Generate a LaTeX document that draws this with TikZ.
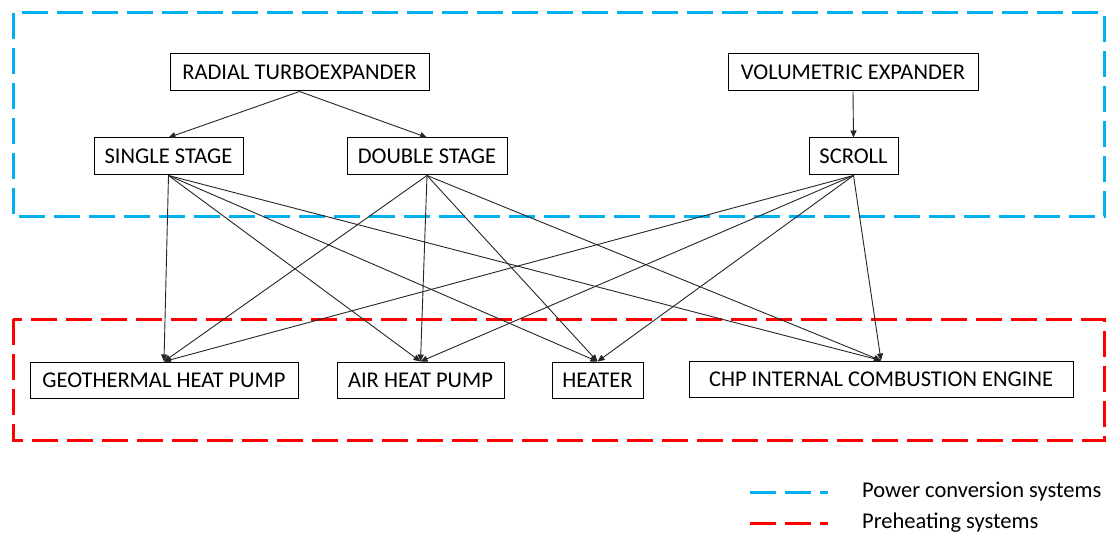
\documentclass[tikz,border=0pt]{standalone}
\usepackage{fontspec}
\setmainfont{Carlito}
\usetikzlibrary{arrows.meta}
\definecolor{grpblue}{HTML}{00B0F0}
\definecolor{grpred}{HTML}{FF0000}
\begin{document}
\begin{tikzpicture}[x=1pt,y=-1pt,
  box/.style={draw=black,line width=1pt,minimum height=37pt,inner sep=0pt,font=\fontsize{22.5}{27}\selectfont},
  link/.style={draw=black!85,line width=0.9pt,-{Triangle[length=7pt,width=6pt]}},
  grpline/.style={line width=3pt,dash pattern=on 26pt off 9pt},
  legtext/.style={anchor=west,inner sep=0pt,font=\fontsize{22.5}{27}\selectfont}]
\fill[white] (0,0) rectangle (1108,537);
\useasboundingbox (0,0) rectangle (1108,537);

% group frames
\draw[grpline,draw=grpblue] (13,13) rectangle (1104,217);
\draw[grpline,draw=grpred] (13,319) rectangle (1104,440);

% nodes
\node[box,minimum width=259pt] (rad) at (299.5,72.5) {RADIAL TURBOEXPANDER};
\node[box,minimum width=250pt] (vol) at (853,72.5) {VOLUMETRIC EXPANDER};
\node[box,minimum width=149pt] (single) at (168.5,156.5) {SINGLE STAGE};
\node[box,minimum width=160pt] (double) at (427,156.5) {DOUBLE STAGE};
\node[box,minimum width=89pt] (scroll) at (853.5,156.5) {SCROLL};
\node[box,minimum width=268pt,minimum height=36pt] (geo) at (164,380) {GEOTHERMAL HEAT PUMP};
\node[box,minimum width=167pt,minimum height=36pt] (air) at (420.5,380) {AIR HEAT PUMP};
\node[box,minimum width=91pt,minimum height=36pt] (heater) at (597.5,380) {HEATER};
\node[box,minimum width=384pt,minimum height=36pt] (chp) at (881,379) {CHP INTERNAL COMBUSTION ENGINE};

% connectors
\draw[link] (rad.south) -- (single.north);
\draw[link] (rad.south) -- (double.north);
\draw[link] (vol.south) -- (scroll.north);
\foreach \s in {single,double,scroll}{
  \foreach \t in {geo,air,heater,chp}{
    \draw[link] (\s.south) -- (\t.north);
  }
}

% legend
\coordinate (lb1) at (750,492);
\coordinate (lb2) at (828,492);
\coordinate (lr1) at (750,523);
\coordinate (lr2) at (828,523);
\draw[grpline,draw=grpblue] (lb1) -- (lb2);
\draw[grpline,draw=grpred] (lr1) -- (lr2);
\node[legtext] (legb) at (862,492) {Power conversion systems};
\node[legtext] (legr) at (862,523) {Preheating systems};
\end{tikzpicture}
\end{document}
